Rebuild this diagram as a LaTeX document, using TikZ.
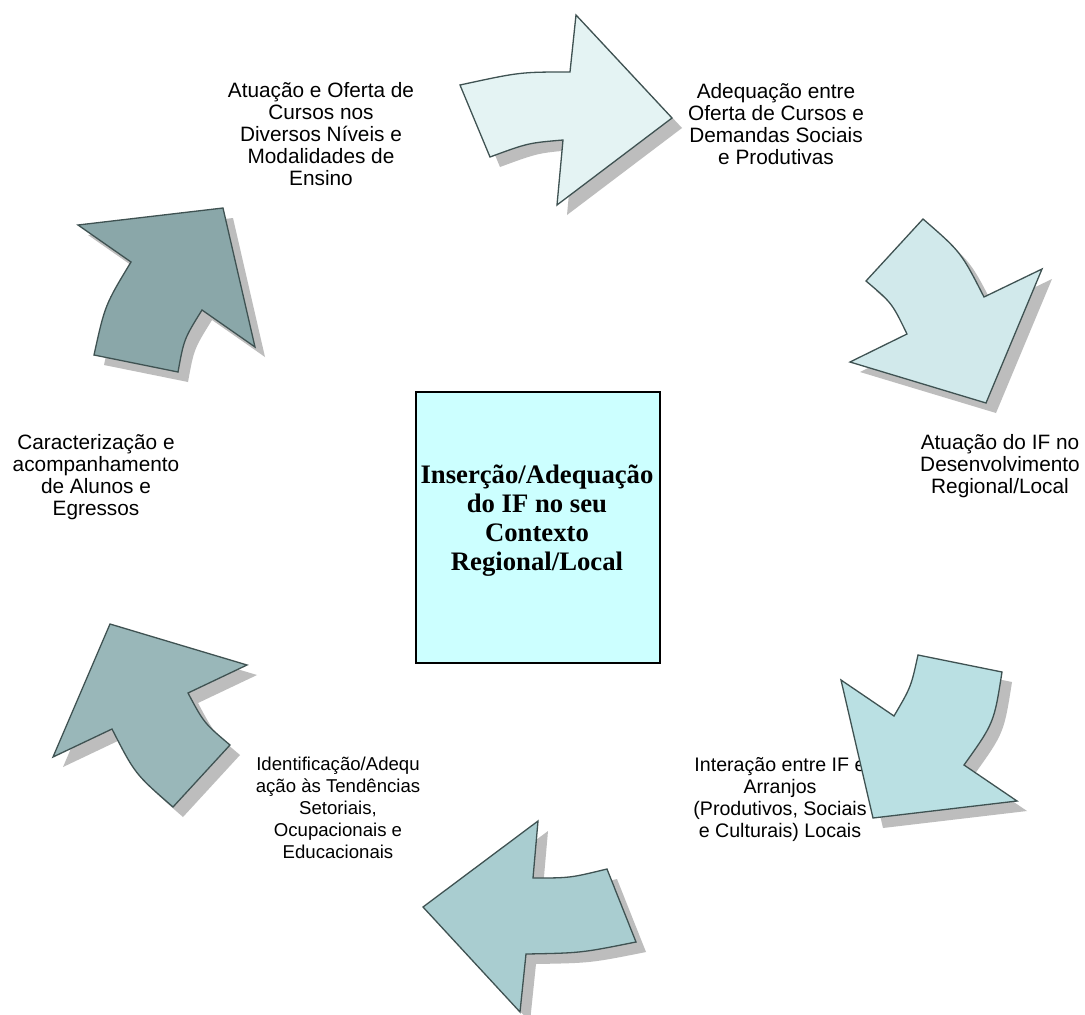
\documentclass[tikz,border=0pt]{standalone}
\usepackage{fontspec}
\newfontfamily\arialf{Liberation Sans}
\newfontfamily\timesf{Liberation Serif}
\usetikzlibrary{shadows}
\definecolor{edgec}{HTML}{3F5252}
\definecolor{shadc}{HTML}{BDBDBD}
\definecolor{boxc}{HTML}{CCFFFF}
\definecolor{cA}{HTML}{E4F3F3}
\definecolor{cB}{HTML}{D1E9EB}
\definecolor{cC}{HTML}{BAE0E3}
\definecolor{cD}{HTML}{A9CDD0}
\definecolor{cE}{HTML}{99B7B9}
\definecolor{cF}{HTML}{8AA7A9}
\tikzset{
  arrowshape/.style={draw=edgec, line width=1.3pt, line join=miter,
    drop shadow={shadow xshift=10pt, shadow yshift=-10pt, fill=shadc, opacity=1, draw=none}},
  lbl/.style={anchor=north, inner sep=0pt, align=center,
    font=\arialf\fontsize{20.8}{22}\selectfont},
  lblsmall/.style={lbl, font=\arialf\fontsize{18.6}{22}\selectfont},
  lblmid/.style={lbl, font=\arialf\fontsize{19.6}{22}\selectfont},
  centertitle/.style={anchor=north, inner sep=0pt, align=center,
    font=\timesf\bfseries\fontsize{26.7}{29}\selectfont},
  centerbox/.style={draw=black, line width=1.5pt, fill=boxc, anchor=north west,
    inner sep=0pt, minimum width=244pt, minimum height=271pt}
}
\begin{document}
\begin{tikzpicture}[x=1pt,y=-1pt]
\useasboundingbox[fill=white] (0,0) rectangle (1085,1015);

% labels (drawn under the arrows)
\node[lbl] (l1) at (321,82.5) {Atuação e Oferta de\\Cursos nos\\Diversos Níveis e\\Modalidades de\\Ensino};
\node[lbl] (l2) at (776,83) {Adequação entre\\Oferta de Cursos e\\Demandas Sociais\\e Produtivas};
\node[lbl] (l3) at (1000,434) {Atuação do IF no\\Desenvolvimento\\Regional/Local};
\node[lbl] (l4) at (96,434) {Caracterização e\\acompanhamento\\de Alunos e\\Egressos};
\node[lblsmall] (l5) at (338,757) {Identificação/Adequ\\ação às Tendências\\Setoriais,\\Ocupacionais e\\Educacionais};
\node[lblmid] (l6) at (780,757) {Interação entre IF e\\Arranjos\\(Produtivos, Sociais\\e Culturais) Locais};

% arrows
\path[arrowshape, fill=cA] (460,85) .. controls (520,72) .. (570,72) -- (576,15) -- (672,118)
  -- (557,205) -- (563,140) .. controls (528,143) .. (490,157) -- cycle;
\path[arrowshape, fill=cB] (923,219) -- (866,281) .. controls (892,303) .. (907,334) -- (850,362)
  -- (986,403) -- (1042,269) -- (984,297) .. controls (961,252) .. (923,219) -- cycle;
\path[arrowshape, fill=cC] (918,655) -- (1002,672) .. controls (994,723) .. (964,765) -- (1017,801)
  -- (873,818) -- (841,680) -- (894,716) .. controls (911,687) .. (918,655) -- cycle;
\path[arrowshape, fill=cD] (538,821) -- (533,878) .. controls (570,878) .. (607,869) -- (636,942)
  .. controls (581,953) .. (526,954) -- (520,1012) -- (423,907) -- cycle;
\path[arrowshape, fill=cE] (110,624) -- (247,665) -- (188,693) .. controls (204,723) .. (230,745)
  -- (173,807) .. controls (135,774) .. (112,729) -- (53,757) -- cycle;
\path[arrowshape, fill=cF] (78,225) -- (223,208) -- (255,347) -- (202,310) .. controls (184,339) .. (178,372)
  -- (94,355) .. controls (105,305) .. (131,262) -- cycle;

% centre
\node[centerbox] (box) at (415,391) {};
\node[centertitle] (title) at (537,464.5) {Inserção/Adequação\\do IF no seu\\Contexto\\Regional/Local};
\end{tikzpicture}
\end{document}
